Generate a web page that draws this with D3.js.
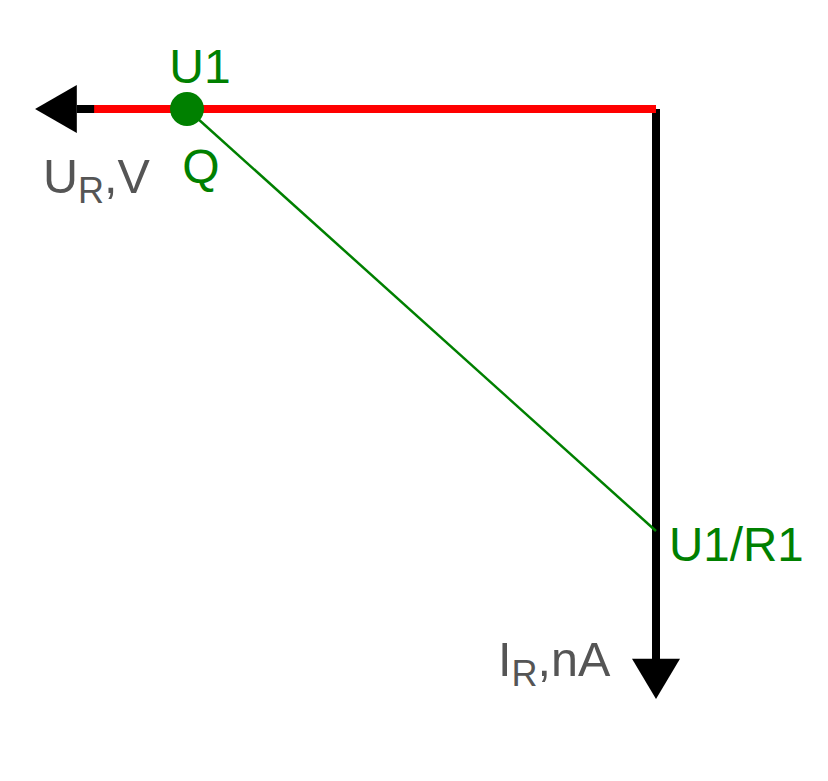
<!DOCTYPE html>
<html><head><meta charset="utf-8">
<script src="https://cdn.jsdelivr.net/npm/d3@7"></script>
<style>body{margin:0;background:#fff}svg{display:block}text{font-family:"Liberation Sans",Arial,sans-serif}</style>
</head><body><svg id="c" width="828" height="781"></svg>
<script>
// Data (normalized units)
const voltageLabels = ["U1"];
const voltageValues = [1.0];          // U1 on the U_R axis
const currentLabels = ["U1/R1"];
const currentValues = [1.0];          // U1/R1 on the I_R axis
const pointLabels = ["Q"];
const axisTitles = {x: ["U", "R", ",V"], y: ["I", "R", ",nA"]};
const redSegment = [0, 1.198];        // red load segment along U axis
const axisArrowTip = {x: 1.324, y: 1.398};
const axisArrowBase = {x: 1.235, y: 1.303};

const svg = d3.select("#c");
const ox = 656, oy = 109;
const x = d3.scaleLinear().domain([0, 1]).range([ox, 187]);
const y = d3.scaleLinear().domain([0, 1]).range([oy, 531]);
const green = "#008000", gray = "#555555";

// Black axes
svg.append("line").attr("x1", x(axisArrowBase.x)).attr("x2", x(redSegment[1]) + 1)
  .attr("y1", oy).attr("y2", oy).attr("stroke", "#000").attr("stroke-width", 8);
svg.append("line").attr("x1", ox).attr("x2", ox).attr("y1", y(0)).attr("y2", y(axisArrowBase.y) + 1)
  .attr("stroke", "#000").attr("stroke-width", 8);
// Arrowheads
svg.append("path").attr("fill", "#000")
  .attr("d", `M${x(axisArrowTip.x)},${oy}L${x(axisArrowBase.x)},${oy - 24}L${x(axisArrowBase.x)},${oy + 24}Z`);
svg.append("path").attr("fill", "#000")
  .attr("d", `M${ox},${y(axisArrowTip.y)}L${ox - 24},${y(axisArrowBase.y)}L${ox + 24},${y(axisArrowBase.y)}Z`);

// Red segment
svg.append("line").attr("x1", x(redSegment[0])).attr("x2", x(redSegment[1]))
  .attr("y1", oy).attr("y2", oy).attr("stroke", "#ff0000").attr("stroke-width", 8);

// Green load line
svg.append("line").attr("x1", x(voltageValues[0])).attr("y1", y(0))
  .attr("x2", x(0)).attr("y2", y(currentValues[0]))
  .attr("stroke", green).attr("stroke-width", 2.5);
svg.append("circle").attr("cx", x(voltageValues[0])).attr("cy", y(0)).attr("r", 17).attr("fill", green);

// Labels
svg.append("text").attr("x", x(voltageValues[0]) + 13).attr("y", 83).attr("text-anchor", "middle")
  .attr("font-size", 48).attr("fill", green).text(voltageLabels[0]);
svg.append("text").attr("x", x(voltageValues[0]) + 14).attr("y", 183).attr("text-anchor", "middle")
  .attr("font-size", 48).attr("fill", green).text(pointLabels[0]);
svg.append("text").attr("x", 669).attr("y", 561)
  .attr("font-size", 47.5).attr("fill", green).text(currentLabels[0]);

function title(t, px, py) {
  const el = svg.append("text").attr("x", px).attr("y", py).attr("font-size", 48.5).attr("fill", gray);
  el.append("tspan").text(t[0]);
  el.append("tspan").attr("font-size", 36).attr("dy", 10).text(t[1]);
  el.append("tspan").attr("dy", -10).text(t[2]);
}
title(axisTitles.x, 43, 193);
title(axisTitles.y, 498, 676);
</script></body></html>
